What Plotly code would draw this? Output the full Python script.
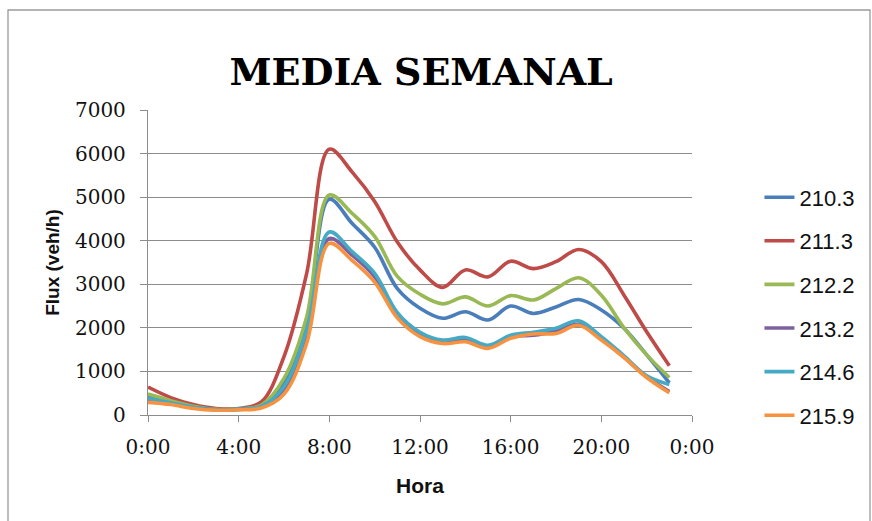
import plotly.graph_objects as go

# Hourly mean weekly traffic flow per detector (veh/h), hours 0..23
hours = list(range(24))
series_names = ["210.3", "211.3", "212.2", "213.2", "214.6", "215.9"]
flux_210_3 = [420, 300, 190, 130, 140, 220, 730, 2150, 4950, 4400, 3850, 2900,
              2450, 2220, 2370, 2180, 2500, 2330, 2480, 2650, 2410, 1990, 1380, 740]
flux_211_3 = [640, 400, 240, 150, 150, 300, 1340, 3250, 6100, 5580, 4900, 3970,
              3330, 2930, 3330, 3170, 3530, 3360, 3520, 3800, 3520, 2750, 1910, 1130]
flux_212_2 = [480, 330, 200, 130, 140, 230, 840, 2250, 5050, 4630, 4100, 3180,
              2770, 2550, 2710, 2500, 2740, 2640, 2900, 3150, 2750, 2000, 1380, 860]
flux_213_2 = [330, 260, 170, 120, 130, 190, 600, 1800, 4050, 3670, 3170, 2280,
              1850, 1680, 1720, 1560, 1800, 1830, 1930, 2080, 1750, 1330, 880, 540]
flux_214_6 = [380, 280, 180, 120, 130, 200, 650, 1950, 4200, 3750, 3250, 2350,
              1900, 1720, 1780, 1600, 1830, 1900, 1990, 2160, 1800, 1360, 900, 700]
flux_215_9 = [290, 240, 150, 110, 120, 160, 480, 1650, 3940, 3550, 3050, 2230,
              1800, 1640, 1680, 1530, 1760, 1860, 1870, 2060, 1720, 1320, 860, 510]

x_tick_vals = [0, 4, 8, 12, 16, 20, 24]
x_tick_text = ["0:00", "4:00", "8:00", "12:00", "16:00", "20:00", "0:00"]
y_tick_vals = [0, 1000, 2000, 3000, 4000, 5000, 6000, 7000]

all_series = [flux_210_3, flux_211_3, flux_212_2, flux_213_2, flux_214_6, flux_215_9]
colors = ["#4A7EBB", "#BE4B48", "#98B954", "#7D60A0", "#46AAC5", "#F69240"]

fig = go.Figure()
for name, vals, col in zip(series_names, all_series, colors):
    fig.add_trace(go.Scatter(
        x=hours, y=vals, name=name, mode="lines",
        line=dict(color=col, width=3.6, shape="spline", smoothing=1.0),
        legendgroup=name,
    ))

serif = "DejaVu Serif"
sans = "Liberation Sans"

fig.update_layout(
    width=872, height=521,
    margin=dict(l=148, r=180, t=110, b=106),
    paper_bgcolor="white", plot_bgcolor="white",
    title=dict(text="<b>MEDIA SEMANAL</b>", x=0.483, xanchor="center",
               y=1 - 72 / 521, yanchor="middle",
               font=dict(family=serif, size=38, color="black")),
    showlegend=True,
    legend=dict(x=1.124, xanchor="left", y=0.356, yanchor="middle",
                font=dict(family=sans, size=22, color="#111"),
                tracegroupgap=12, bgcolor="rgba(0,0,0,0)"),
    xaxis=dict(range=[0, 24], tickvals=x_tick_vals, ticktext=x_tick_text,
               showgrid=False, zeroline=False,
               showline=True, linecolor="#8C8C8C", linewidth=1.3,
               ticks="outside", ticklen=6, tickcolor="#8C8C8C",
               ticklabelstandoff=8,
               tickfont=dict(family=serif, size=20, color="#111"),
               title=dict(text="<b>Hora</b>", standoff=20,
                          font=dict(family=sans, size=21, color="#111"))),
    yaxis=dict(range=[0, 7000], tickvals=y_tick_vals,
               showgrid=True, gridcolor="#8C8C8C", gridwidth=1.3,
               zeroline=False, showline=True, linecolor="#8C8C8C", linewidth=1.3,
               ticks="outside", ticklen=7, tickcolor="#8C8C8C",
               ticklabelstandoff=10,
               tickfont=dict(family=serif, size=20, color="#111"),
               title=dict(text="<b>Flux (veh/h)</b>", standoff=10,
                          font=dict(family=sans, size=19, color="#111"))),
)

# outer chart frame
fig.add_shape(type="rect", xref="paper", yref="paper",
              x0=(8 - 148) / 544, x1=(870 - 148) / 544,
              y0=(415 - 530) / 305, y1=(415 - 10) / 305,
              line=dict(color="#9A9A9A", width=1.3), layer="below")

fig.write_html("out.html")
